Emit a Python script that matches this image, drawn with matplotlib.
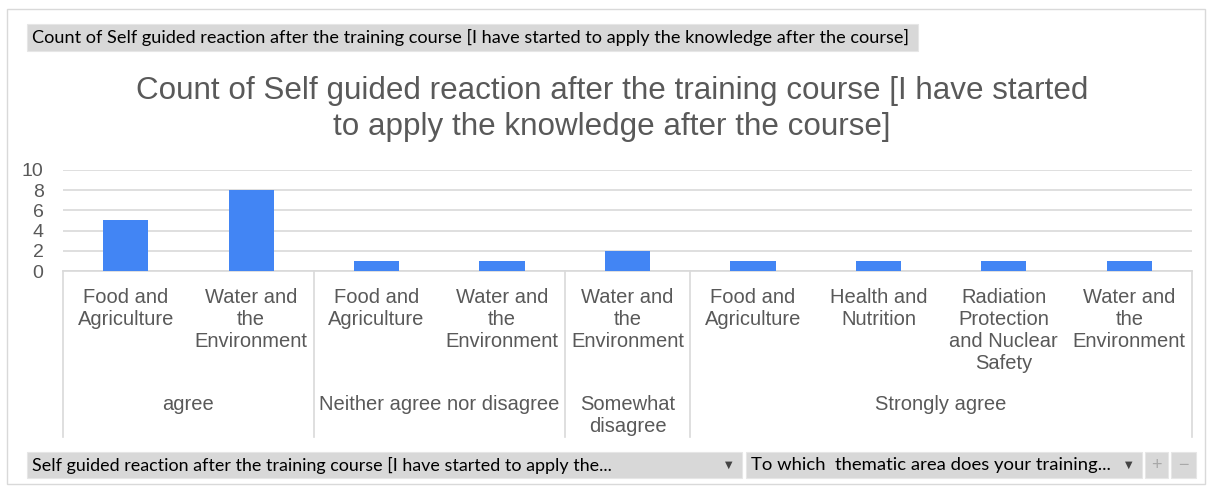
import matplotlib.pyplot as plt
import matplotlib.transforms as mtransforms
from matplotlib.patches import Rectangle

# data
groups = ['agree', 'Neither agree nor disagree', 'Somewhat\ndisagree', 'Strongly agree']
areas = [
    ['Food and\nAgriculture', 'Water and\nthe\nEnvironment'],
    ['Food and\nAgriculture', 'Water and\nthe\nEnvironment'],
    ['Water and\nthe\nEnvironment'],
    ['Food and\nAgriculture', 'Health and\nNutrition',
     'Radiation\nProtection\nand Nuclear\nSafety', 'Water and\nthe\nEnvironment'],
]
counts = [[5, 8], [1, 1], [2], [1, 1, 1, 1]]
yticks = [0, 2, 4, 6, 8, 10]

title = ('Count of Self guided reaction after the training course [I have started\n'
         'to apply the knowledge after the course]')
field_top = ('Count of Self guided reaction after the training course '
             '[I have started to apply the knowledge after the course]')
field_rows = 'Self guided reaction after the training course [I have started to apply the...'
field_cols = 'To which  thematic area does your training...'

W, H = 1212, 486
txt = '#595959'
grid = '#d9d9d9'
blue = '#4285f4'
plt.rcParams['font.family'] = ['Liberation Sans', 'DejaVu Sans']

fig = plt.figure(figsize=(W / 100, H / 100), dpi=100)


def fx(px):
    return px / W


def fy(py):
    return 1 - py / H


# outer frame
fig.patches.append(Rectangle((fx(7), fy(484)), fx(1205 - 7), (484 - 9) / H,
                             transform=fig.transFigure, fill=False,
                             edgecolor='#d9d9d9', lw=1))


# field buttons
def box(x0, x1, y0, y1):
    fig.patches.append(Rectangle((fx(x0), fy(y1)), fx(x1 - x0), (y1 - y0) / H,
                                 transform=fig.transFigure, facecolor='#d8d8d8',
                                 edgecolor='#e6e6e6', lw=0.8))


def button(x0, x1, y0, y1, label, arrow=False, size=12):
    box(x0, x1, y0, y1)
    fig.text(fx(x0 + 5), fy((y0 + y1) / 2), label, fontsize=size, color='black',
             va='center', ha='left', family=['Lato', 'DejaVu Sans'])
    if arrow:
        fig.text(fx(x1 - 13), fy((y0 + y1) / 2), '\u25BC', fontsize=7, color='#444444',
                 va='center', ha='center', family='DejaVu Sans')


button(27, 918, 24, 51, field_top, size=13.1)
button(27, 742, 452, 478, field_rows, arrow=True, size=12.9)
button(746, 1142, 452, 478, field_cols, arrow=True, size=13.3)
box(1145, 1168, 452, 478)
box(1171, 1196, 452, 478)
fig.text(fx(1156.5), fy(465), '+', fontsize=13, color='#a8a8a8', ha='center', va='center')
fig.text(fx(1183.5), fy(465), '\u2212', fontsize=13, color='#a8a8a8', ha='center', va='center')

# title
fig.text(fx(612), fy(109), title, fontsize=22.6, color=txt, ha='center', va='center',
         linespacing=1.3)

# plot area
x_left, x_right, y_top, y_bot = 63, 1192, 170, 271
ax = fig.add_axes([fx(x_left), fy(y_bot), fx(x_right - x_left), (y_bot - y_top) / H])

xs, vals, labels = [], [], []
bounds = [0]
i = 0
for g, (a_list, c_list) in enumerate(zip(areas, counts)):
    for a, c in zip(a_list, c_list):
        xs.append(i)
        vals.append(c)
        labels.append(a)
        i += 1
    bounds.append(i)

ax.bar(xs, vals, width=0.36, color=blue, zorder=3)
ax.set_xlim(-0.5, len(xs) - 0.5)
ax.set_ylim(0, 10)
ax.set_yticks(yticks)
ax.set_xticks([])
ax.tick_params(axis='y', length=0, labelsize=14, labelcolor=txt, pad=14)
for t in ax.get_yticklabels():
    t.set_fontfamily(['Liberation Sans'])
ax.yaxis.grid(True, color=grid, lw=1.2, zorder=0)
for s in ['top', 'right', 'left']:
    ax.spines[s].set_visible(False)
ax.spines['bottom'].set_color(grid)
ax.spines['bottom'].set_linewidth(1.2)

# category table below the axis
trans = mtransforms.blended_transform_factory(ax.transData, fig.transFigure)
for x, lab in zip(xs, labels):
    ax.text(x, fy(288), lab, transform=trans, ha='center', va='top', fontsize=14.5,
            color=txt, linespacing=1.2, clip_on=False)
for g, lab in enumerate(groups):
    cx = (bounds[g] + bounds[g + 1] - 1) / 2
    ax.text(cx, fy(395), lab, transform=trans, ha='center', va='top', fontsize=14.5,
            color=txt, linespacing=1.2, clip_on=False)
for b in bounds:
    ax.plot([b - 0.5, b - 0.5], [fy(y_bot), fy(437)], transform=trans, color=grid,
            lw=1.2, clip_on=False)

fig.savefig('out.png', dpi=100)
